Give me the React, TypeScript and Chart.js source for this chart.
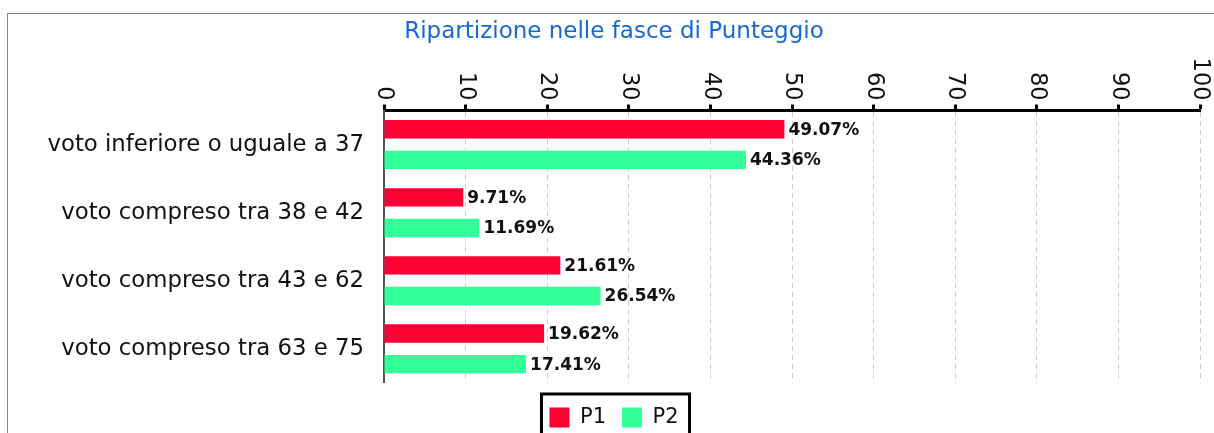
import React, { useEffect, useRef } from "react";
import { Chart, registerables } from "chart.js";

Chart.register(...registerables);

const TITLE = "Ripartizione nelle fasce di Punteggio";
const categories = [
  "voto inferiore o uguale a 37",
  "voto compreso tra 38 e 42",
  "voto compreso tra 43 e 62",
  "voto compreso tra 63 e 75",
];
const seriesNames = ["P1", "P2"];
const p1Values = [49.07, 9.71, 21.61, 19.62];
const p2Values = [44.36, 11.69, 26.54, 17.41];
const seriesColors = ["#FF0033", "#33FF99"];
const axisMin = 0;
const axisMax = 100;
const axisStep = 10;

const FONT = "'DejaVu Sans', sans-serif";
const TICK_FONT_SIZE = 22.5;

const rotatedTicksPlugin = {
  id: "rotatedTicks",
  afterDraw(chart: any) {
    const scale = chart.scales.x;
    const ctx = chart.ctx;
    const tickLen = scale.options.grid.tickLength;
    const pad = scale.options.ticks.padding;
    const y = scale.bottom - tickLen - pad;
    ctx.save();
    ctx.fillStyle = "#111";
    ctx.font = `${TICK_FONT_SIZE}px ${FONT}`;
    ctx.textAlign = "right";
    ctx.textBaseline = "middle";
    scale.ticks.forEach((t: any) => {
      const x = scale.getPixelForValue(t.value);
      ctx.save();
      ctx.translate(x, y);
      ctx.rotate(Math.PI / 2);
      ctx.fillText(String(t.label), 0, 0);
      ctx.restore();
    });
    ctx.restore();
  },
};

const valueLabelPlugin = {
  id: "valueLabels",
  afterDatasetsDraw(chart: any) {
    const ctx = chart.ctx;
    ctx.save();
    ctx.fillStyle = "#111";
    ctx.font = `bold 17px ${FONT}`;
    ctx.textAlign = "left";
    ctx.textBaseline = "middle";
    chart.data.datasets.forEach((ds: any, di: number) => {
      const meta = chart.getDatasetMeta(di);
      meta.data.forEach((bar: any, i: number) => {
        const v = ds.data[i] as number;
        ctx.fillText(v.toFixed(2) + "%", bar.x + 4, bar.y + 1);
      });
    });
    ctx.restore();
  },
};

const legendBoxPlugin = {
  id: "legendBox",
  afterDraw(chart: any) {
    const lg = chart.legend;
    if (!lg || !lg.legendHitBoxes || !lg.legendHitBoxes.length) return;
    const hb = lg.legendHitBoxes;
    let l = Infinity, r = -Infinity, t = Infinity;
    hb.forEach((h: any) => {
      l = Math.min(l, h.left);
      r = Math.max(r, h.left + h.width);
      t = Math.min(t, h.top);
    });
    const ctx = chart.ctx;
    ctx.save();
    ctx.strokeStyle = "#000";
    ctx.lineWidth = 3;
    ctx.strokeRect(l - 8, t - 13, r - l + 19, 80);
    ctx.restore();
  },
};

export default function App() {
  const ref = useRef<HTMLCanvasElement | null>(null);
  useEffect(() => {
    if (!ref.current) return;
    const chart = new Chart(ref.current, {
      type: "bar",
      data: {
        labels: categories,
        datasets: [
          {
            label: seriesNames[0],
            data: p1Values,
            backgroundColor: seriesColors[0],
            borderWidth: 0,
            categoryPercentage: 0.9,
            barPercentage: 0.6,
          },
          {
            label: seriesNames[1],
            data: p2Values,
            backgroundColor: seriesColors[1],
            borderWidth: 0,
            categoryPercentage: 0.9,
            barPercentage: 0.6,
          },
        ],
      },
      options: {
        indexAxis: "y",
        animation: false,
        responsive: true,
        maintainAspectRatio: false,
        layout: { padding: { left: 20, right: 20, top: 0, bottom: 0 } },
        scales: {
          x: {
            position: "top",
            min: axisMin,
            max: axisMax,
            ticks: {
              stepSize: axisStep,
              minRotation: 90,
              maxRotation: 90,
              padding: 4,
              color: "rgba(0,0,0,0)",
              font: { family: FONT, size: TICK_FONT_SIZE },
            },
            grid: {
              color: "#cccccc",
              lineWidth: 1,
              tickLength: 6,
              tickColor: "#000",
              tickWidth: 3,
            },
            border: { display: true, color: "#000", width: 3, dash: [5, 4] },
          },
          y: {
            ticks: {
              color: "#111",
              padding: 20,
              font: { family: FONT, size: 22.8 },
            },
            grid: { display: false, drawTicks: false },
            border: { display: true, color: "#555", width: 2 },
            afterFit: (scale: any) => {
              scale.width = 356;
            },
          },
        },
        plugins: {
          title: {
            display: true,
            text: TITLE,
            color: "#1569d0",
            font: { family: FONT, size: 23, weight: "normal" },
            padding: { top: 4, bottom: 8 },
          },
          legend: {
            position: "bottom",
            title: { display: true, text: "", font: { size: 1 }, padding: { top: 7, bottom: 0 } },
            labels: {
              boxWidth: 20,
              boxHeight: 20,
              padding: 16,
              color: "#111",
              font: { family: FONT, size: 21 },
            },
          },
          tooltip: { enabled: false },
        },
      },
      plugins: [rotatedTicksPlugin, valueLabelPlugin, legendBoxPlugin],
    });
    return () => chart.destroy();
  }, []);
  return (
    <div
      style={{
        position: "fixed",
        left: 7,
        top: 13,
        width: 1207,
        height: 420,
        overflow: "hidden",
        borderTop: "1px solid #888",
        borderLeft: "1px solid #888",
        boxSizing: "border-box",
        background: "#fff",
      }}
    >
      <div style={{ position: "relative", width: 1212, height: 424 }}>
        <canvas ref={ref} />
      </div>
    </div>
  );
}
